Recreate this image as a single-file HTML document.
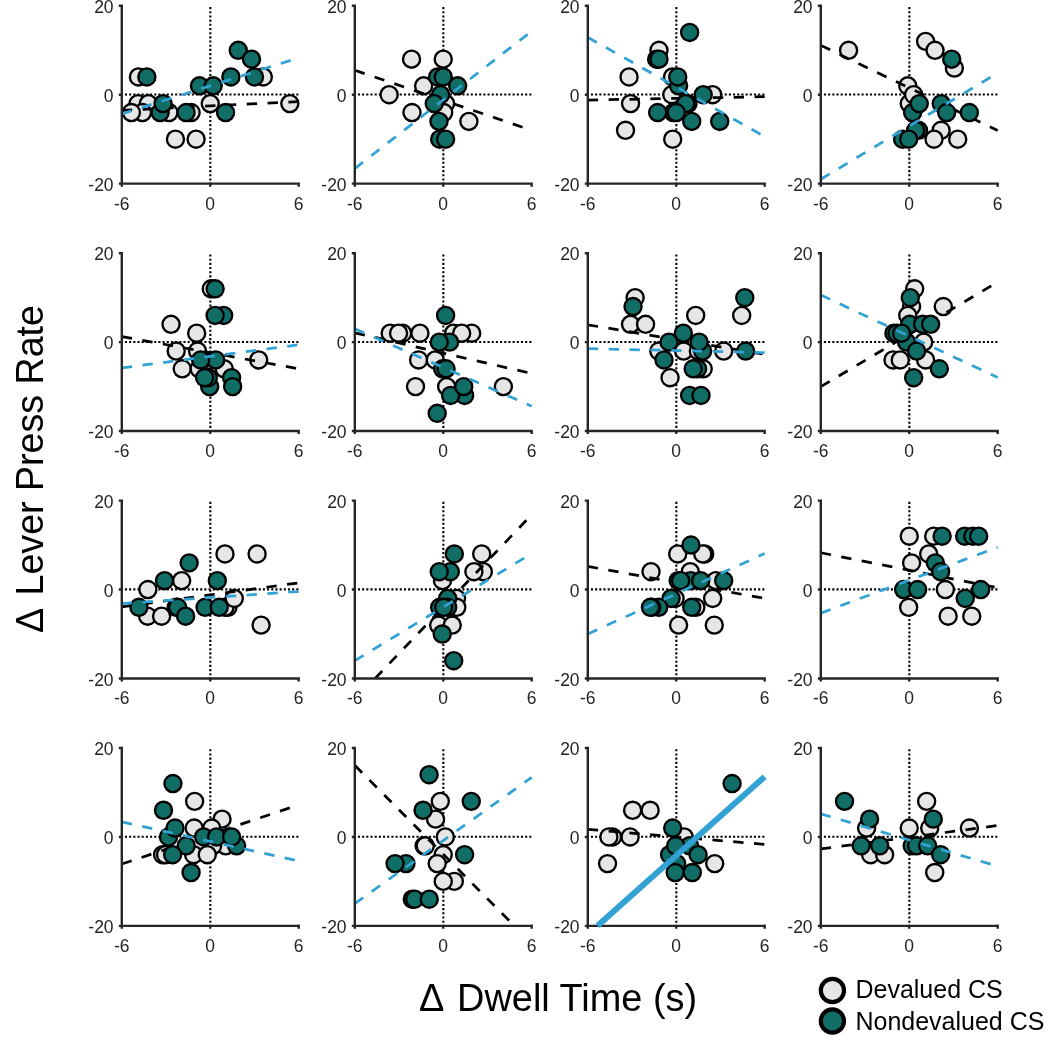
<!DOCTYPE html>
<html><head><meta charset="utf-8"><title>Scatter grid</title>
<style>
html,body{margin:0;padding:0;background:#fff;}
body{width:1045px;height:1050px;overflow:hidden;}
svg{display:block;will-change:transform;}
text{font-family:"Liberation Sans",sans-serif;fill:#242424;}
.tk{font-size:17.5px;}
.ax{stroke:#262626;stroke-width:2.4;fill:none;}
.dot{stroke:#000;stroke-width:2.1;stroke-dasharray:2.1 2.08;fill:none;}
.L{fill:#e6e6e6;stroke:#000;stroke-width:2.35;}
.T{fill:#116e67;stroke:#000;stroke-width:2.35;}
.bk{stroke:#000;stroke-width:2.75;stroke-dasharray:10.35 10.5;fill:none;}
.bl{stroke:#31a2d3;stroke-width:2.75;stroke-dasharray:10.35 10.5;fill:none;}
.bs{stroke:#31a2d3;stroke-width:6;fill:none;}
</style></head>
<body>
<svg width="1045" height="1050" viewBox="0 0 1045 1050">
<rect width="1045" height="1050" fill="#fff"/>
<defs>
<clipPath id="c00"><rect x="121.8" y="2.8" width="178.08" height="180.86"/></clipPath>
<clipPath id="c01"><rect x="354.8" y="2.8" width="178.08" height="180.86"/></clipPath>
<clipPath id="c02"><rect x="587.8" y="2.8" width="178.08" height="180.86"/></clipPath>
<clipPath id="c03"><rect x="820.8" y="2.8" width="178.08" height="180.86"/></clipPath>
<clipPath id="c10"><rect x="121.8" y="250.2" width="178.08" height="180.86"/></clipPath>
<clipPath id="c11"><rect x="354.8" y="250.2" width="178.08" height="180.86"/></clipPath>
<clipPath id="c12"><rect x="587.8" y="250.2" width="178.08" height="180.86"/></clipPath>
<clipPath id="c13"><rect x="820.8" y="250.2" width="178.08" height="180.86"/></clipPath>
<clipPath id="c20"><rect x="121.8" y="497.6" width="178.08" height="180.86"/></clipPath>
<clipPath id="c21"><rect x="354.8" y="497.6" width="178.08" height="180.86"/></clipPath>
<clipPath id="c22"><rect x="587.8" y="497.6" width="178.08" height="180.86"/></clipPath>
<clipPath id="c23"><rect x="820.8" y="497.6" width="178.08" height="180.86"/></clipPath>
<clipPath id="c30"><rect x="121.8" y="745" width="178.08" height="180.86"/></clipPath>
<clipPath id="c31"><rect x="354.8" y="745" width="178.08" height="180.86"/></clipPath>
<clipPath id="c32"><rect x="587.8" y="745" width="178.08" height="180.86"/></clipPath>
<clipPath id="c33"><rect x="820.8" y="745" width="178.08" height="180.86"/></clipPath>
</defs>
<g>
<path class="dot" d="M120.75 94.53 H298.88"/>
<path class="dot" d="M210.34 184.71 V7"/>
<circle class="L" cx="138.46" cy="76.94" r="8.55"/>
<circle class="L" cx="138.01" cy="103.62" r="8.55"/>
<circle class="L" cx="148.33" cy="103.62" r="8.55"/>
<circle class="L" cx="142.44" cy="112.52" r="8.55"/>
<circle class="L" cx="131.38" cy="112.52" r="8.55"/>
<circle class="L" cx="168.97" cy="112.52" r="8.55"/>
<circle class="L" cx="191.08" cy="112.52" r="8.55"/>
<circle class="L" cx="175.45" cy="139.2" r="8.55"/>
<circle class="L" cx="196.09" cy="139.2" r="8.55"/>
<circle class="L" cx="210.24" cy="103.62" r="8.55"/>
<circle class="L" cx="263.3" cy="76.94" r="8.55"/>
<circle class="L" cx="289.84" cy="103.62" r="8.55"/>
<path class="bk" clip-path="url(#c00)" d="M121.8 110.29 L298.68 101.62"/>
<circle class="T" cx="146.86" cy="76.94" r="8.55"/>
<circle class="T" cx="160.12" cy="112.52" r="8.55"/>
<circle class="T" cx="163.07" cy="103.62" r="8.55"/>
<circle class="T" cx="186.07" cy="112.52" r="8.55"/>
<circle class="T" cx="199.48" cy="85.84" r="8.55"/>
<circle class="T" cx="213.19" cy="85.84" r="8.55"/>
<circle class="T" cx="230.88" cy="76.94" r="8.55"/>
<circle class="T" cx="225.57" cy="112.52" r="8.55"/>
<circle class="T" cx="238.25" cy="50.27" r="8.55"/>
<circle class="T" cx="251.51" cy="59.16" r="8.55"/>
<circle class="T" cx="254.46" cy="76.94" r="8.55"/>
<path class="bl" clip-path="url(#c00)" d="M121.8 113.85 L298.68 57.82"/>
<path class="ax" d="M118.8 5.8 H121.8 V183.66 H298.68 M121.8 183.66 V186.66 M210.24 183.66 V186.66 M298.68 182.41 V186.66"/>
<path class="ax" d="M118.8 183.66 H121.8 M118.8 94.73 H121.8"/>
<text class="tk" text-anchor="end" transform="translate(113.6 12.9) scale(1 1.06)">20</text>
<text class="tk" text-anchor="end" transform="translate(113.6 101.83) scale(1 1.06)">0</text>
<text class="tk" text-anchor="end" transform="translate(113.6 190.76) scale(1 1.06)">-20</text>
<text class="tk" text-anchor="middle" transform="translate(121.8 209.66) scale(1 1.06)">-6</text>
<text class="tk" text-anchor="middle" transform="translate(210.24 209.66) scale(1 1.06)">0</text>
<text class="tk" text-anchor="middle" transform="translate(298.68 209.66) scale(1 1.06)">6</text>
</g>
<g>
<path class="dot" d="M353.75 94.53 H531.88"/>
<path class="dot" d="M443.34 184.71 V7"/>
<circle class="L" cx="411.55" cy="59.16" r="8.55"/>
<circle class="L" cx="443.24" cy="59.16" r="8.55"/>
<circle class="L" cx="423.64" cy="85.84" r="8.55"/>
<circle class="L" cx="389.14" cy="94.73" r="8.55"/>
<circle class="L" cx="411.99" cy="112.52" r="8.55"/>
<circle class="L" cx="445.6" cy="103.62" r="8.55"/>
<circle class="L" cx="443.68" cy="112.52" r="8.55"/>
<circle class="L" cx="468.89" cy="121.41" r="8.55"/>
<path class="bk" clip-path="url(#c01)" d="M354.8 70.27 L531.68 130.3"/>
<circle class="T" cx="437.64" cy="76.94" r="8.55"/>
<circle class="T" cx="443.24" cy="76.94" r="8.55"/>
<circle class="T" cx="457.69" cy="85.84" r="8.55"/>
<circle class="T" cx="440.59" cy="94.73" r="8.55"/>
<circle class="T" cx="434.25" cy="103.62" r="8.55"/>
<circle class="T" cx="438.97" cy="121.41" r="8.55"/>
<circle class="T" cx="439.7" cy="139.2" r="8.55"/>
<circle class="T" cx="445.6" cy="139.2" r="8.55"/>
<path class="bl" clip-path="url(#c01)" d="M354.8 168.54 L531.68 31.15"/>
<path class="ax" d="M351.8 5.8 H354.8 V183.66 H531.68 M354.8 183.66 V186.66 M443.24 183.66 V186.66 M531.68 182.41 V186.66"/>
<path class="ax" d="M351.8 183.66 H354.8 M351.8 94.73 H354.8"/>
<text class="tk" text-anchor="end" transform="translate(346.6 12.9) scale(1 1.06)">20</text>
<text class="tk" text-anchor="end" transform="translate(346.6 101.83) scale(1 1.06)">0</text>
<text class="tk" text-anchor="end" transform="translate(346.6 190.76) scale(1 1.06)">-20</text>
<text class="tk" text-anchor="middle" transform="translate(354.8 209.66) scale(1 1.06)">-6</text>
<text class="tk" text-anchor="middle" transform="translate(443.24 209.66) scale(1 1.06)">0</text>
<text class="tk" text-anchor="middle" transform="translate(531.68 209.66) scale(1 1.06)">6</text>
</g>
<g>
<path class="dot" d="M586.75 94.53 H764.88"/>
<path class="dot" d="M676.34 184.71 V7"/>
<circle class="L" cx="658.99" cy="50.27" r="8.55"/>
<circle class="L" cx="629.07" cy="76.94" r="8.55"/>
<circle class="L" cx="672.55" cy="76.94" r="8.55"/>
<circle class="L" cx="671.82" cy="94.73" r="8.55"/>
<circle class="L" cx="630.55" cy="103.62" r="8.55"/>
<circle class="L" cx="625.53" cy="130.3" r="8.55"/>
<circle class="L" cx="672.7" cy="139.2" r="8.55"/>
<circle class="L" cx="712.65" cy="94.73" r="8.55"/>
<path class="bk" clip-path="url(#c02)" d="M587.8 100.07 L764.68 96.73"/>
<circle class="T" cx="689.65" cy="32.48" r="8.55"/>
<circle class="T" cx="656.64" cy="59.16" r="8.55"/>
<circle class="T" cx="658.99" cy="59.16" r="8.55"/>
<circle class="T" cx="673.29" cy="112.52" r="8.55"/>
<circle class="T" cx="688.03" cy="103.62" r="8.55"/>
<circle class="T" cx="678.6" cy="85.84" r="8.55"/>
<circle class="T" cx="677.71" cy="76.94" r="8.55"/>
<circle class="T" cx="703.21" cy="94.73" r="8.55"/>
<circle class="T" cx="685.67" cy="103.62" r="8.55"/>
<circle class="T" cx="657.67" cy="112.52" r="8.55"/>
<circle class="T" cx="676.24" cy="112.52" r="8.55"/>
<circle class="T" cx="691.72" cy="121.41" r="8.55"/>
<circle class="T" cx="719.72" cy="121.41" r="8.55"/>
<path class="bl" clip-path="url(#c02)" d="M587.8 37.37 L764.68 136.53"/>
<path class="ax" d="M584.8 5.8 H587.8 V183.66 H764.68 M587.8 183.66 V186.66 M676.24 183.66 V186.66 M764.68 182.41 V186.66"/>
<path class="ax" d="M584.8 183.66 H587.8 M584.8 94.73 H587.8"/>
<text class="tk" text-anchor="end" transform="translate(579.6 12.9) scale(1 1.06)">20</text>
<text class="tk" text-anchor="end" transform="translate(579.6 101.83) scale(1 1.06)">0</text>
<text class="tk" text-anchor="end" transform="translate(579.6 190.76) scale(1 1.06)">-20</text>
<text class="tk" text-anchor="middle" transform="translate(587.8 209.66) scale(1 1.06)">-6</text>
<text class="tk" text-anchor="middle" transform="translate(676.24 209.66) scale(1 1.06)">0</text>
<text class="tk" text-anchor="middle" transform="translate(764.68 209.66) scale(1 1.06)">6</text>
</g>
<g>
<path class="dot" d="M819.75 94.53 H997.88"/>
<path class="dot" d="M909.34 184.71 V7"/>
<circle class="L" cx="848.58" cy="50.27" r="8.55"/>
<circle class="L" cx="925.6" cy="41.37" r="8.55"/>
<circle class="L" cx="935.03" cy="50.27" r="8.55"/>
<circle class="L" cx="954.34" cy="68.05" r="8.55"/>
<circle class="L" cx="907.77" cy="85.84" r="8.55"/>
<circle class="L" cx="909.24" cy="103.62" r="8.55"/>
<circle class="L" cx="913.66" cy="94.73" r="8.55"/>
<circle class="L" cx="941.08" cy="130.3" r="8.55"/>
<circle class="L" cx="934" cy="139.2" r="8.55"/>
<circle class="L" cx="957.73" cy="139.2" r="8.55"/>
<path class="bk" clip-path="url(#c03)" d="M820.8 45.37 L997.68 130.48"/>
<circle class="T" cx="951.69" cy="59.16" r="8.55"/>
<circle class="T" cx="941.23" cy="103.62" r="8.55"/>
<circle class="T" cx="912.63" cy="112.52" r="8.55"/>
<circle class="T" cx="919.26" cy="103.62" r="8.55"/>
<circle class="T" cx="946.68" cy="112.52" r="8.55"/>
<circle class="T" cx="969.38" cy="112.52" r="8.55"/>
<circle class="T" cx="918.53" cy="130.3" r="8.55"/>
<circle class="T" cx="915.58" cy="130.3" r="8.55"/>
<circle class="T" cx="902.61" cy="139.2" r="8.55"/>
<circle class="T" cx="908.65" cy="139.2" r="8.55"/>
<path class="bl" clip-path="url(#c03)" d="M820.8 179.21 L997.68 72.94"/>
<path class="ax" d="M817.8 5.8 H820.8 V183.66 H997.68 M820.8 183.66 V186.66 M909.24 183.66 V186.66 M997.68 182.41 V186.66"/>
<path class="ax" d="M817.8 183.66 H820.8 M817.8 94.73 H820.8"/>
<text class="tk" text-anchor="end" transform="translate(812.6 12.9) scale(1 1.06)">20</text>
<text class="tk" text-anchor="end" transform="translate(812.6 101.83) scale(1 1.06)">0</text>
<text class="tk" text-anchor="end" transform="translate(812.6 190.76) scale(1 1.06)">-20</text>
<text class="tk" text-anchor="middle" transform="translate(820.8 209.66) scale(1 1.06)">-6</text>
<text class="tk" text-anchor="middle" transform="translate(909.24 209.66) scale(1 1.06)">0</text>
<text class="tk" text-anchor="middle" transform="translate(997.68 209.66) scale(1 1.06)">6</text>
</g>
<g>
<path class="dot" d="M120.75 341.93 H298.88"/>
<path class="dot" d="M210.34 432.11 V254.4"/>
<circle class="L" cx="211.27" cy="288.77" r="8.55"/>
<circle class="L" cx="171.03" cy="324.34" r="8.55"/>
<circle class="L" cx="196.68" cy="333.24" r="8.55"/>
<circle class="L" cx="176.19" cy="351.02" r="8.55"/>
<circle class="L" cx="197.56" cy="351.02" r="8.55"/>
<circle class="L" cx="182.23" cy="368.81" r="8.55"/>
<circle class="L" cx="224.24" cy="368.81" r="8.55"/>
<circle class="L" cx="258.73" cy="359.92" r="8.55"/>
<circle class="L" cx="199.19" cy="368.81" r="8.55"/>
<path class="bk" clip-path="url(#c10)" d="M121.8 336.53 L298.68 368.81"/>
<circle class="T" cx="215.1" cy="288.77" r="8.55"/>
<circle class="T" cx="223.65" cy="315.45" r="8.55"/>
<circle class="T" cx="215.1" cy="315.45" r="8.55"/>
<circle class="T" cx="215.69" cy="359.92" r="8.55"/>
<circle class="T" cx="200.66" cy="359.92" r="8.55"/>
<circle class="T" cx="209.65" cy="386.6" r="8.55"/>
<circle class="T" cx="208.32" cy="377.7" r="8.55"/>
<circle class="T" cx="204.64" cy="377.7" r="8.55"/>
<circle class="T" cx="231.61" cy="377.7" r="8.55"/>
<circle class="T" cx="232.64" cy="386.6" r="8.55"/>
<path class="bl" clip-path="url(#c10)" d="M121.8 367.92 L298.68 344.8"/>
<path class="ax" d="M118.8 253.2 H121.8 V431.06 H298.68 M121.8 431.06 V434.06 M210.24 431.06 V434.06 M298.68 429.81 V434.06"/>
<path class="ax" d="M118.8 431.06 H121.8 M118.8 342.13 H121.8"/>
<text class="tk" text-anchor="end" transform="translate(113.6 260.3) scale(1 1.06)">20</text>
<text class="tk" text-anchor="end" transform="translate(113.6 349.23) scale(1 1.06)">0</text>
<text class="tk" text-anchor="end" transform="translate(113.6 438.16) scale(1 1.06)">-20</text>
<text class="tk" text-anchor="middle" transform="translate(121.8 457.06) scale(1 1.06)">-6</text>
<text class="tk" text-anchor="middle" transform="translate(210.24 457.06) scale(1 1.06)">0</text>
<text class="tk" text-anchor="middle" transform="translate(298.68 457.06) scale(1 1.06)">6</text>
</g>
<g>
<path class="dot" d="M353.75 341.93 H531.88"/>
<path class="dot" d="M443.34 432.11 V254.4"/>
<circle class="L" cx="390.18" cy="333.24" r="8.55"/>
<circle class="L" cx="402.56" cy="333.24" r="8.55"/>
<circle class="L" cx="398.58" cy="333.24" r="8.55"/>
<circle class="L" cx="419.95" cy="333.24" r="8.55"/>
<circle class="L" cx="453.56" cy="333.24" r="8.55"/>
<circle class="L" cx="471.69" cy="333.24" r="8.55"/>
<circle class="L" cx="461.67" cy="333.24" r="8.55"/>
<circle class="L" cx="418.62" cy="359.92" r="8.55"/>
<circle class="L" cx="435.28" cy="359.92" r="8.55"/>
<circle class="L" cx="415.53" cy="386.6" r="8.55"/>
<circle class="L" cx="446.63" cy="386.6" r="8.55"/>
<circle class="L" cx="503.38" cy="386.6" r="8.55"/>
<path class="bk" clip-path="url(#c11)" d="M354.8 332.79 L531.68 373.48"/>
<circle class="T" cx="445.6" cy="315.45" r="8.55"/>
<circle class="T" cx="449.58" cy="342.13" r="8.55"/>
<circle class="T" cx="439.26" cy="342.13" r="8.55"/>
<circle class="T" cx="442.65" cy="368.81" r="8.55"/>
<circle class="T" cx="446.04" cy="368.81" r="8.55"/>
<circle class="T" cx="464.61" cy="395.49" r="8.55"/>
<circle class="T" cx="450.61" cy="395.49" r="8.55"/>
<circle class="T" cx="463.73" cy="386.6" r="8.55"/>
<circle class="T" cx="437.2" cy="413.27" r="8.55"/>
<path class="bl" clip-path="url(#c11)" d="M354.8 328.79 L531.68 406.16"/>
<path class="ax" d="M351.8 253.2 H354.8 V431.06 H531.68 M354.8 431.06 V434.06 M443.24 431.06 V434.06 M531.68 429.81 V434.06"/>
<path class="ax" d="M351.8 431.06 H354.8 M351.8 342.13 H354.8"/>
<text class="tk" text-anchor="end" transform="translate(346.6 260.3) scale(1 1.06)">20</text>
<text class="tk" text-anchor="end" transform="translate(346.6 349.23) scale(1 1.06)">0</text>
<text class="tk" text-anchor="end" transform="translate(346.6 438.16) scale(1 1.06)">-20</text>
<text class="tk" text-anchor="middle" transform="translate(354.8 457.06) scale(1 1.06)">-6</text>
<text class="tk" text-anchor="middle" transform="translate(443.24 457.06) scale(1 1.06)">0</text>
<text class="tk" text-anchor="middle" transform="translate(531.68 457.06) scale(1 1.06)">6</text>
</g>
<g>
<path class="dot" d="M586.75 341.93 H764.88"/>
<path class="dot" d="M676.34 432.11 V254.4"/>
<circle class="L" cx="635.12" cy="297.67" r="8.55"/>
<circle class="L" cx="630.55" cy="324.34" r="8.55"/>
<circle class="L" cx="645.58" cy="324.34" r="8.55"/>
<circle class="L" cx="695.7" cy="315.45" r="8.55"/>
<circle class="L" cx="741.69" cy="315.45" r="8.55"/>
<circle class="L" cx="658.85" cy="351.02" r="8.55"/>
<circle class="L" cx="683.61" cy="351.02" r="8.55"/>
<circle class="L" cx="698.35" cy="351.02" r="8.55"/>
<circle class="L" cx="723.7" cy="351.02" r="8.55"/>
<circle class="L" cx="703.21" cy="368.81" r="8.55"/>
<circle class="L" cx="670.05" cy="377.7" r="8.55"/>
<path class="bk" clip-path="url(#c12)" d="M587.8 324.79 L764.68 354.36"/>
<circle class="T" cx="633.05" cy="306.56" r="8.55"/>
<circle class="T" cx="744.78" cy="297.67" r="8.55"/>
<circle class="T" cx="683.32" cy="333.24" r="8.55"/>
<circle class="T" cx="669.02" cy="342.13" r="8.55"/>
<circle class="T" cx="702.62" cy="351.02" r="8.55"/>
<circle class="T" cx="699.09" cy="342.13" r="8.55"/>
<circle class="T" cx="745.67" cy="351.02" r="8.55"/>
<circle class="T" cx="664.01" cy="359.92" r="8.55"/>
<circle class="T" cx="697.61" cy="368.81" r="8.55"/>
<circle class="T" cx="693.19" cy="368.81" r="8.55"/>
<circle class="T" cx="689.65" cy="395.49" r="8.55"/>
<circle class="T" cx="701" cy="395.49" r="8.55"/>
<path class="bl" clip-path="url(#c12)" d="M587.8 348.58 L764.68 352.58"/>
<path class="ax" d="M584.8 253.2 H587.8 V431.06 H764.68 M587.8 431.06 V434.06 M676.24 431.06 V434.06 M764.68 429.81 V434.06"/>
<path class="ax" d="M584.8 431.06 H587.8 M584.8 342.13 H587.8"/>
<text class="tk" text-anchor="end" transform="translate(579.6 260.3) scale(1 1.06)">20</text>
<text class="tk" text-anchor="end" transform="translate(579.6 349.23) scale(1 1.06)">0</text>
<text class="tk" text-anchor="end" transform="translate(579.6 438.16) scale(1 1.06)">-20</text>
<text class="tk" text-anchor="middle" transform="translate(587.8 457.06) scale(1 1.06)">-6</text>
<text class="tk" text-anchor="middle" transform="translate(676.24 457.06) scale(1 1.06)">0</text>
<text class="tk" text-anchor="middle" transform="translate(764.68 457.06) scale(1 1.06)">6</text>
</g>
<g>
<path class="dot" d="M819.75 341.93 H997.88"/>
<path class="dot" d="M909.34 432.11 V254.4"/>
<circle class="L" cx="914.69" cy="288.77" r="8.55"/>
<circle class="L" cx="911.6" cy="306.56" r="8.55"/>
<circle class="L" cx="907.77" cy="315.45" r="8.55"/>
<circle class="L" cx="943.29" cy="306.56" r="8.55"/>
<circle class="L" cx="923.69" cy="342.13" r="8.55"/>
<circle class="L" cx="893.03" cy="359.92" r="8.55"/>
<circle class="L" cx="900.25" cy="359.92" r="8.55"/>
<circle class="L" cx="925.6" cy="359.92" r="8.55"/>
<path class="bk" clip-path="url(#c13)" d="M820.8 386.6 L997.68 282.1"/>
<circle class="T" cx="910.27" cy="297.67" r="8.55"/>
<circle class="T" cx="909.68" cy="324.34" r="8.55"/>
<circle class="T" cx="922.65" cy="324.34" r="8.55"/>
<circle class="T" cx="930.61" cy="324.34" r="8.55"/>
<circle class="T" cx="893.91" cy="333.24" r="8.55"/>
<circle class="T" cx="897.01" cy="333.24" r="8.55"/>
<circle class="T" cx="906.59" cy="342.13" r="8.55"/>
<circle class="T" cx="901.58" cy="333.24" r="8.55"/>
<circle class="T" cx="916.61" cy="351.02" r="8.55"/>
<circle class="T" cx="939.31" cy="368.81" r="8.55"/>
<circle class="T" cx="913.66" cy="377.7" r="8.55"/>
<path class="bl" clip-path="url(#c13)" d="M820.8 295 L997.68 377.48"/>
<path class="ax" d="M817.8 253.2 H820.8 V431.06 H997.68 M820.8 431.06 V434.06 M909.24 431.06 V434.06 M997.68 429.81 V434.06"/>
<path class="ax" d="M817.8 431.06 H820.8 M817.8 342.13 H820.8"/>
<text class="tk" text-anchor="end" transform="translate(812.6 260.3) scale(1 1.06)">20</text>
<text class="tk" text-anchor="end" transform="translate(812.6 349.23) scale(1 1.06)">0</text>
<text class="tk" text-anchor="end" transform="translate(812.6 438.16) scale(1 1.06)">-20</text>
<text class="tk" text-anchor="middle" transform="translate(820.8 457.06) scale(1 1.06)">-6</text>
<text class="tk" text-anchor="middle" transform="translate(909.24 457.06) scale(1 1.06)">0</text>
<text class="tk" text-anchor="middle" transform="translate(997.68 457.06) scale(1 1.06)">6</text>
</g>
<g>
<path class="dot" d="M120.75 589.33 H298.88"/>
<path class="dot" d="M210.34 679.51 V501.8"/>
<circle class="L" cx="224.98" cy="553.96" r="8.55"/>
<circle class="L" cx="257.11" cy="553.96" r="8.55"/>
<circle class="L" cx="181.64" cy="580.64" r="8.55"/>
<circle class="L" cx="147.89" cy="589.53" r="8.55"/>
<circle class="L" cx="147.59" cy="616.21" r="8.55"/>
<circle class="L" cx="161.6" cy="616.21" r="8.55"/>
<circle class="L" cx="227.93" cy="607.32" r="8.55"/>
<circle class="L" cx="224.98" cy="607.32" r="8.55"/>
<circle class="L" cx="234.27" cy="598.42" r="8.55"/>
<circle class="L" cx="261.09" cy="625.1" r="8.55"/>
<path class="bk" clip-path="url(#c20)" d="M121.8 606.87 L298.68 582.86"/>
<circle class="T" cx="189.16" cy="562.85" r="8.55"/>
<circle class="T" cx="164.55" cy="580.64" r="8.55"/>
<circle class="T" cx="217.32" cy="580.64" r="8.55"/>
<circle class="T" cx="138.9" cy="607.32" r="8.55"/>
<circle class="T" cx="176.19" cy="607.32" r="8.55"/>
<circle class="T" cx="177.66" cy="607.32" r="8.55"/>
<circle class="T" cx="185.62" cy="616.21" r="8.55"/>
<circle class="T" cx="205.08" cy="607.32" r="8.55"/>
<circle class="T" cx="219.23" cy="607.32" r="8.55"/>
<path class="bl" clip-path="url(#c20)" d="M121.8 603.58 L298.68 591.53"/>
<path class="ax" d="M118.8 500.6 H121.8 V678.46 H298.68 M121.8 678.46 V681.46 M210.24 678.46 V681.46 M298.68 677.21 V681.46"/>
<path class="ax" d="M118.8 678.46 H121.8 M118.8 589.53 H121.8"/>
<text class="tk" text-anchor="end" transform="translate(113.6 507.7) scale(1 1.06)">20</text>
<text class="tk" text-anchor="end" transform="translate(113.6 596.63) scale(1 1.06)">0</text>
<text class="tk" text-anchor="end" transform="translate(113.6 685.56) scale(1 1.06)">-20</text>
<text class="tk" text-anchor="middle" transform="translate(121.8 704.46) scale(1 1.06)">-6</text>
<text class="tk" text-anchor="middle" transform="translate(210.24 704.46) scale(1 1.06)">0</text>
<text class="tk" text-anchor="middle" transform="translate(298.68 704.46) scale(1 1.06)">6</text>
</g>
<g>
<path class="dot" d="M353.75 589.33 H531.88"/>
<path class="dot" d="M443.34 679.51 V501.8"/>
<circle class="L" cx="481.71" cy="553.96" r="8.55"/>
<circle class="L" cx="483.33" cy="571.74" r="8.55"/>
<circle class="L" cx="473.9" cy="571.74" r="8.55"/>
<circle class="L" cx="442.5" cy="580.64" r="8.55"/>
<circle class="L" cx="456.51" cy="598.42" r="8.55"/>
<circle class="L" cx="456.8" cy="607.32" r="8.55"/>
<circle class="L" cx="438.67" cy="625.1" r="8.55"/>
<circle class="L" cx="452.23" cy="625.1" r="8.55"/>
<path class="bk" clip-path="url(#c21)" d="M375.09 678.46 L531.68 514.74"/>
<circle class="T" cx="454.3" cy="553.96" r="8.55"/>
<circle class="T" cx="450.32" cy="571.74" r="8.55"/>
<circle class="T" cx="439.26" cy="571.74" r="8.55"/>
<circle class="T" cx="447.66" cy="598.42" r="8.55"/>
<circle class="T" cx="439.7" cy="607.32" r="8.55"/>
<circle class="T" cx="447.66" cy="607.32" r="8.55"/>
<circle class="T" cx="443.68" cy="607.32" r="8.55"/>
<circle class="T" cx="442.21" cy="634" r="8.55"/>
<circle class="T" cx="453.71" cy="660.67" r="8.55"/>
<path class="bl" clip-path="url(#c21)" d="M354.8 660.67 L531.68 553.51"/>
<path class="ax" d="M351.8 500.6 H354.8 V678.46 H531.68 M354.8 678.46 V681.46 M443.24 678.46 V681.46 M531.68 677.21 V681.46"/>
<path class="ax" d="M351.8 678.46 H354.8 M351.8 589.53 H354.8"/>
<text class="tk" text-anchor="end" transform="translate(346.6 507.7) scale(1 1.06)">20</text>
<text class="tk" text-anchor="end" transform="translate(346.6 596.63) scale(1 1.06)">0</text>
<text class="tk" text-anchor="end" transform="translate(346.6 685.56) scale(1 1.06)">-20</text>
<text class="tk" text-anchor="middle" transform="translate(354.8 704.46) scale(1 1.06)">-6</text>
<text class="tk" text-anchor="middle" transform="translate(443.24 704.46) scale(1 1.06)">0</text>
<text class="tk" text-anchor="middle" transform="translate(531.68 704.46) scale(1 1.06)">6</text>
</g>
<g>
<path class="dot" d="M586.75 589.33 H764.88"/>
<path class="dot" d="M676.34 679.51 V501.8"/>
<circle class="L" cx="677.71" cy="553.96" r="8.55"/>
<circle class="L" cx="704.69" cy="553.96" r="8.55"/>
<circle class="L" cx="702.77" cy="553.96" r="8.55"/>
<circle class="L" cx="651.03" cy="571.74" r="8.55"/>
<circle class="L" cx="690.24" cy="571.74" r="8.55"/>
<circle class="L" cx="715.74" cy="580.64" r="8.55"/>
<circle class="L" cx="675.06" cy="598.42" r="8.55"/>
<circle class="L" cx="712.65" cy="598.42" r="8.55"/>
<circle class="L" cx="695.84" cy="607.32" r="8.55"/>
<circle class="L" cx="678.6" cy="625.1" r="8.55"/>
<circle class="L" cx="714.27" cy="625.1" r="8.55"/>
<path class="bk" clip-path="url(#c22)" d="M587.8 566.41 L764.68 598.42"/>
<circle class="T" cx="690.98" cy="545.07" r="8.55"/>
<circle class="T" cx="690.69" cy="580.64" r="8.55"/>
<circle class="T" cx="678.16" cy="580.64" r="8.55"/>
<circle class="T" cx="680.66" cy="580.64" r="8.55"/>
<circle class="T" cx="700.71" cy="580.64" r="8.55"/>
<circle class="T" cx="723.7" cy="580.64" r="8.55"/>
<circle class="T" cx="671.08" cy="598.42" r="8.55"/>
<circle class="T" cx="658.7" cy="607.32" r="8.55"/>
<circle class="T" cx="651.77" cy="607.32" r="8.55"/>
<circle class="T" cx="650.44" cy="607.32" r="8.55"/>
<circle class="T" cx="691.72" cy="607.32" r="8.55"/>
<path class="bl" clip-path="url(#c22)" d="M587.8 634 L764.68 553.51"/>
<path class="ax" d="M584.8 500.6 H587.8 V678.46 H764.68 M587.8 678.46 V681.46 M676.24 678.46 V681.46 M764.68 677.21 V681.46"/>
<path class="ax" d="M584.8 678.46 H587.8 M584.8 589.53 H587.8"/>
<text class="tk" text-anchor="end" transform="translate(579.6 507.7) scale(1 1.06)">20</text>
<text class="tk" text-anchor="end" transform="translate(579.6 596.63) scale(1 1.06)">0</text>
<text class="tk" text-anchor="end" transform="translate(579.6 685.56) scale(1 1.06)">-20</text>
<text class="tk" text-anchor="middle" transform="translate(587.8 704.46) scale(1 1.06)">-6</text>
<text class="tk" text-anchor="middle" transform="translate(676.24 704.46) scale(1 1.06)">0</text>
<text class="tk" text-anchor="middle" transform="translate(764.68 704.46) scale(1 1.06)">6</text>
</g>
<g>
<path class="dot" d="M819.75 589.33 H997.88"/>
<path class="dot" d="M909.34 679.51 V501.8"/>
<circle class="L" cx="909.24" cy="536.17" r="8.55"/>
<circle class="L" cx="933.71" cy="536.17" r="8.55"/>
<circle class="L" cx="928.7" cy="553.96" r="8.55"/>
<circle class="L" cx="911.6" cy="562.85" r="8.55"/>
<circle class="L" cx="945.35" cy="589.53" r="8.55"/>
<circle class="L" cx="908.65" cy="607.32" r="8.55"/>
<circle class="L" cx="948.15" cy="616.21" r="8.55"/>
<circle class="L" cx="971.74" cy="616.21" r="8.55"/>
<path class="bk" clip-path="url(#c23)" d="M820.8 552.76 L997.68 587.75"/>
<circle class="T" cx="942.11" cy="536.17" r="8.55"/>
<circle class="T" cx="964.66" cy="536.17" r="8.55"/>
<circle class="T" cx="972.77" cy="536.17" r="8.55"/>
<circle class="T" cx="978.67" cy="536.17" r="8.55"/>
<circle class="T" cx="935.33" cy="562.85" r="8.55"/>
<circle class="T" cx="940.64" cy="571.74" r="8.55"/>
<circle class="T" cx="903.64" cy="589.53" r="8.55"/>
<circle class="T" cx="917.64" cy="589.53" r="8.55"/>
<circle class="T" cx="965.25" cy="598.42" r="8.55"/>
<circle class="T" cx="980.73" cy="589.53" r="8.55"/>
<path class="bl" clip-path="url(#c23)" d="M820.8 613.1 L997.68 547.29"/>
<path class="ax" d="M817.8 500.6 H820.8 V678.46 H997.68 M820.8 678.46 V681.46 M909.24 678.46 V681.46 M997.68 677.21 V681.46"/>
<path class="ax" d="M817.8 678.46 H820.8 M817.8 589.53 H820.8"/>
<text class="tk" text-anchor="end" transform="translate(812.6 507.7) scale(1 1.06)">20</text>
<text class="tk" text-anchor="end" transform="translate(812.6 596.63) scale(1 1.06)">0</text>
<text class="tk" text-anchor="end" transform="translate(812.6 685.56) scale(1 1.06)">-20</text>
<text class="tk" text-anchor="middle" transform="translate(820.8 704.46) scale(1 1.06)">-6</text>
<text class="tk" text-anchor="middle" transform="translate(909.24 704.46) scale(1 1.06)">0</text>
<text class="tk" text-anchor="middle" transform="translate(997.68 704.46) scale(1 1.06)">6</text>
</g>
<g>
<path class="dot" d="M120.75 836.73 H298.88"/>
<path class="dot" d="M210.34 926.91 V749.2"/>
<circle class="L" cx="194.62" cy="801.36" r="8.55"/>
<circle class="L" cx="222.03" cy="819.14" r="8.55"/>
<circle class="L" cx="194.17" cy="828.04" r="8.55"/>
<circle class="L" cx="211.71" cy="828.04" r="8.55"/>
<circle class="L" cx="162.63" cy="854.72" r="8.55"/>
<circle class="L" cx="165.58" cy="854.72" r="8.55"/>
<circle class="L" cx="225.72" cy="845.82" r="8.55"/>
<circle class="L" cx="212.6" cy="845.82" r="8.55"/>
<circle class="L" cx="193.58" cy="854.72" r="8.55"/>
<circle class="L" cx="207.29" cy="854.72" r="8.55"/>
<path class="bk" clip-path="url(#c30)" d="M121.8 864.05 L298.68 804.92"/>
<circle class="T" cx="172.95" cy="783.57" r="8.55"/>
<circle class="T" cx="163.51" cy="810.25" r="8.55"/>
<circle class="T" cx="168.53" cy="836.93" r="8.55"/>
<circle class="T" cx="175.01" cy="828.04" r="8.55"/>
<circle class="T" cx="186.21" cy="845.82" r="8.55"/>
<circle class="T" cx="172.65" cy="854.72" r="8.55"/>
<circle class="T" cx="191.08" cy="872.5" r="8.55"/>
<circle class="T" cx="203.61" cy="836.93" r="8.55"/>
<circle class="T" cx="216.58" cy="836.93" r="8.55"/>
<circle class="T" cx="236.62" cy="845.82" r="8.55"/>
<circle class="T" cx="231.61" cy="836.93" r="8.55"/>
<path class="bl" clip-path="url(#c30)" d="M121.8 821.81 L298.68 860.94"/>
<path class="ax" d="M118.8 748 H121.8 V925.86 H298.68 M121.8 925.86 V928.86 M210.24 925.86 V928.86 M298.68 924.61 V928.86"/>
<path class="ax" d="M118.8 925.86 H121.8 M118.8 836.93 H121.8"/>
<text class="tk" text-anchor="end" transform="translate(113.6 755.1) scale(1 1.06)">20</text>
<text class="tk" text-anchor="end" transform="translate(113.6 844.03) scale(1 1.06)">0</text>
<text class="tk" text-anchor="end" transform="translate(113.6 932.96) scale(1 1.06)">-20</text>
<text class="tk" text-anchor="middle" transform="translate(121.8 951.86) scale(1 1.06)">-6</text>
<text class="tk" text-anchor="middle" transform="translate(210.24 951.86) scale(1 1.06)">0</text>
<text class="tk" text-anchor="middle" transform="translate(298.68 951.86) scale(1 1.06)">6</text>
</g>
<g>
<path class="dot" d="M353.75 836.73 H531.88"/>
<path class="dot" d="M443.34 926.91 V749.2"/>
<circle class="L" cx="440.29" cy="801.36" r="8.55"/>
<circle class="L" cx="435.58" cy="819.14" r="8.55"/>
<circle class="L" cx="445.3" cy="836.93" r="8.55"/>
<circle class="L" cx="424.08" cy="845.82" r="8.55"/>
<circle class="L" cx="425.26" cy="845.82" r="8.55"/>
<circle class="L" cx="443.24" cy="854.72" r="8.55"/>
<circle class="L" cx="437.2" cy="863.61" r="8.55"/>
<circle class="L" cx="454.3" cy="881.39" r="8.55"/>
<circle class="L" cx="443.24" cy="881.39" r="8.55"/>
<path class="bk" clip-path="url(#c31)" d="M354.8 765.34 L531.68 943.2"/>
<circle class="T" cx="429.09" cy="774.68" r="8.55"/>
<circle class="T" cx="471.25" cy="801.36" r="8.55"/>
<circle class="T" cx="423.05" cy="810.25" r="8.55"/>
<circle class="T" cx="464.61" cy="854.72" r="8.55"/>
<circle class="T" cx="405.95" cy="863.61" r="8.55"/>
<circle class="T" cx="395.04" cy="863.61" r="8.55"/>
<circle class="T" cx="412.29" cy="899.18" r="8.55"/>
<circle class="T" cx="414.64" cy="899.18" r="8.55"/>
<circle class="T" cx="429.24" cy="899.18" r="8.55"/>
<path class="bl" clip-path="url(#c31)" d="M354.8 903.63 L531.68 777.35"/>
<path class="ax" d="M351.8 748 H354.8 V925.86 H531.68 M354.8 925.86 V928.86 M443.24 925.86 V928.86 M531.68 924.61 V928.86"/>
<path class="ax" d="M351.8 925.86 H354.8 M351.8 836.93 H354.8"/>
<text class="tk" text-anchor="end" transform="translate(346.6 755.1) scale(1 1.06)">20</text>
<text class="tk" text-anchor="end" transform="translate(346.6 844.03) scale(1 1.06)">0</text>
<text class="tk" text-anchor="end" transform="translate(346.6 932.96) scale(1 1.06)">-20</text>
<text class="tk" text-anchor="middle" transform="translate(354.8 951.86) scale(1 1.06)">-6</text>
<text class="tk" text-anchor="middle" transform="translate(443.24 951.86) scale(1 1.06)">0</text>
<text class="tk" text-anchor="middle" transform="translate(531.68 951.86) scale(1 1.06)">6</text>
</g>
<g>
<path class="dot" d="M586.75 836.73 H764.88"/>
<path class="dot" d="M676.34 926.91 V749.2"/>
<circle class="L" cx="632.61" cy="810.25" r="8.55"/>
<circle class="L" cx="650.15" cy="810.25" r="8.55"/>
<circle class="L" cx="612.56" cy="836.93" r="8.55"/>
<circle class="L" cx="608.88" cy="836.93" r="8.55"/>
<circle class="L" cx="630.1" cy="836.93" r="8.55"/>
<circle class="L" cx="607.55" cy="863.61" r="8.55"/>
<circle class="L" cx="684.2" cy="836.93" r="8.55"/>
<circle class="L" cx="714.71" cy="863.61" r="8.55"/>
<path class="bk" clip-path="url(#c32)" d="M587.8 829.37 L764.68 844.36"/>
<circle class="T" cx="732.1" cy="783.57" r="8.55"/>
<circle class="T" cx="672.7" cy="828.04" r="8.55"/>
<circle class="T" cx="689.65" cy="845.82" r="8.55"/>
<circle class="T" cx="669.61" cy="854.72" r="8.55"/>
<circle class="T" cx="675.65" cy="845.82" r="8.55"/>
<circle class="T" cx="676.68" cy="863.61" r="8.55"/>
<circle class="T" cx="698.06" cy="854.72" r="8.55"/>
<circle class="T" cx="675.21" cy="872.5" r="8.55"/>
<circle class="T" cx="692.31" cy="872.5" r="8.55"/>
<path class="ax" d="M584.8 748 H587.8 V925.86 H764.68 M587.8 925.86 V928.86 M676.24 925.86 V928.86 M764.68 924.61 V928.86"/>
<path class="ax" d="M584.8 925.86 H587.8 M584.8 836.93 H587.8"/>
<path class="bs" d="M597.53 925.86 L764.68 776.68"/>
<text class="tk" text-anchor="end" transform="translate(579.6 755.1) scale(1 1.06)">20</text>
<text class="tk" text-anchor="end" transform="translate(579.6 844.03) scale(1 1.06)">0</text>
<text class="tk" text-anchor="end" transform="translate(579.6 932.96) scale(1 1.06)">-20</text>
<text class="tk" text-anchor="middle" transform="translate(587.8 951.86) scale(1 1.06)">-6</text>
<text class="tk" text-anchor="middle" transform="translate(676.24 951.86) scale(1 1.06)">0</text>
<text class="tk" text-anchor="middle" transform="translate(764.68 951.86) scale(1 1.06)">6</text>
</g>
<g>
<path class="dot" d="M819.75 836.73 H997.88"/>
<path class="dot" d="M909.34 926.91 V749.2"/>
<circle class="L" cx="926.63" cy="801.36" r="8.55"/>
<circle class="L" cx="866.64" cy="828.04" r="8.55"/>
<circle class="L" cx="909.24" cy="828.04" r="8.55"/>
<circle class="L" cx="929.73" cy="828.04" r="8.55"/>
<circle class="L" cx="969.38" cy="828.04" r="8.55"/>
<circle class="L" cx="870.62" cy="854.72" r="8.55"/>
<circle class="L" cx="884.62" cy="854.72" r="8.55"/>
<circle class="L" cx="934.74" cy="872.5" r="8.55"/>
<path class="bk" clip-path="url(#c33)" d="M820.8 848.94 L997.68 825.5"/>
<circle class="T" cx="844.53" cy="801.36" r="8.55"/>
<circle class="T" cx="869.59" cy="819.14" r="8.55"/>
<circle class="T" cx="933.27" cy="819.14" r="8.55"/>
<circle class="T" cx="861.19" cy="845.82" r="8.55"/>
<circle class="T" cx="879.76" cy="845.82" r="8.55"/>
<circle class="T" cx="912.19" cy="845.82" r="8.55"/>
<circle class="T" cx="916.61" cy="845.82" r="8.55"/>
<circle class="T" cx="927.66" cy="845.82" r="8.55"/>
<circle class="T" cx="940.64" cy="854.72" r="8.55"/>
<path class="bl" clip-path="url(#c33)" d="M820.8 813.81 L997.68 866.28"/>
<path class="ax" d="M817.8 748 H820.8 V925.86 H997.68 M820.8 925.86 V928.86 M909.24 925.86 V928.86 M997.68 924.61 V928.86"/>
<path class="ax" d="M817.8 925.86 H820.8 M817.8 836.93 H820.8"/>
<text class="tk" text-anchor="end" transform="translate(812.6 755.1) scale(1 1.06)">20</text>
<text class="tk" text-anchor="end" transform="translate(812.6 844.03) scale(1 1.06)">0</text>
<text class="tk" text-anchor="end" transform="translate(812.6 932.96) scale(1 1.06)">-20</text>
<text class="tk" text-anchor="middle" transform="translate(820.8 951.86) scale(1 1.06)">-6</text>
<text class="tk" text-anchor="middle" transform="translate(909.24 951.86) scale(1 1.06)">0</text>
<text class="tk" text-anchor="middle" transform="translate(997.68 951.86) scale(1 1.06)">6</text>
</g>
<text transform="translate(419 1010.6) scale(1 1.04)" font-size="37.92" style="fill:#000">Δ<tspan dx="2.2"> Dwell Time (s)</tspan></text>
<text transform="translate(42.75 633.0) rotate(-90) scale(1 1.035)" font-size="37.6" style="fill:#000">Δ<tspan dx="2"> Lever Press Rate</tspan></text>
<circle cx="832.4" cy="990.5" r="11.6" fill="#e6e6e6" stroke="#000" stroke-width="4.2"/>
<circle cx="832.4" cy="1021" r="11.6" fill="#116e67" stroke="#000" stroke-width="4.2"/>
<text transform="translate(855.5 998.2) scale(1 1.03)" font-size="25" style="fill:#000">Devalued CS</text>
<text transform="translate(855.5 1030.3) scale(1 1.03)" font-size="25" style="fill:#000">Nondevalued CS</text>
</svg>
</body></html>
